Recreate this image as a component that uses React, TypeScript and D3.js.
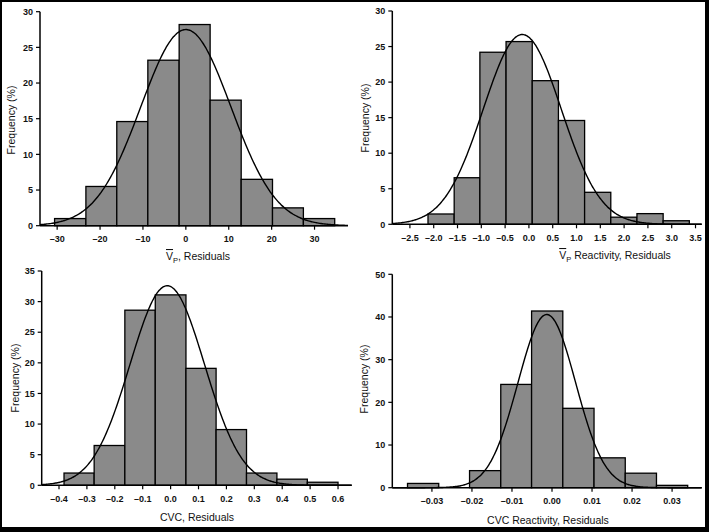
import React from "react";
import * as d3 from "d3";

// ---------- DATA ----------
// Panel 1: V̄P residuals
const p1Edges = [-30.6, -23.3, -16.1, -8.86, -1.56, 5.66, 12.9, 20.2, 27.4, 34.7];
const p1Freq = [1.0, 5.5, 14.6, 23.2, 28.2, 17.6, 6.5, 2.5, 1.0];
const p1Fit = [0.0, 10.5, 27.5]; // mean, sd, peak
const p1XTicks = [-30, -20, -10, 0, 10, 20, 30];
const p1XLabels = ["\u201330", "\u201320", "\u201310", "0", "10", "20", "30"];
const p1YTicks = [0, 5, 10, 15, 20, 25, 30];

// Panel 2: V̄P reactivity residuals
const p2Edges = [-2.12, -1.57, -1.03, -0.48, 0.07, 0.62, 1.17, 1.72, 2.27, 2.82, 3.37];
const p2Freq = [1.45, 6.55, 24.2, 25.7, 20.2, 14.6, 4.5, 1.0, 1.5, 0.5];
const p2Fit = [-0.14, 0.82, 26.7];
const p2XTicks = [-2.5, -2.0, -1.5, -1.0, -0.5, 0.0, 0.5, 1.0, 1.5, 2.0, 2.5, 3.0, 3.5];
const p2XLabels = ["\u20132.5", "\u20132.0", "\u20131.5", "\u20131.0", "\u20130.5", "0.0", "0.5", "1.0", "1.5", "2.0", "2.5", "3.0", "3.5"];
const p2YTicks = [0, 5, 10, 15, 20, 25, 30];

// Panel 3: CVC residuals
const p3Edges = [-0.382, -0.274, -0.164, -0.055, 0.055, 0.163, 0.272, 0.381, 0.49, 0.6];
const p3Freq = [2.0, 6.5, 28.6, 31.1, 19.1, 9.1, 2.0, 1.0, 0.5];
const p3Fit = [-0.012, 0.1334, 32.6];
const p3XTicks = [-0.4, -0.3, -0.2, -0.1, 0.0, 0.1, 0.2, 0.3, 0.4, 0.5, 0.6];
const p3XLabels = ["\u20130.4", "\u20130.3", "\u20130.2", "\u20130.1", "0.0", "0.1", "0.2", "0.3", "0.4", "0.5", "0.6"];
const p3YTicks = [0, 5, 10, 15, 20, 25, 30, 35];

// Panel 4: CVC reactivity residuals
const p4Edges = [-0.0361, -0.0283, -0.0206, -0.0128, -0.0051, 0.0027, 0.0105, 0.0183, 0.0261, 0.0339];
const p4Freq = [1.0, 0, 4.0, 24.2, 41.4, 18.6, 7.0, 3.4, 0.55];
const p4Fit = [-0.0013, 0.0072, 40.6];
const p4XTicks = [-0.03, -0.02, -0.01, 0.0, 0.01, 0.02, 0.03];
const p4XLabels = ["\u20130.03", "\u20130.02", "\u20130.01", "0.00", "0.01", "0.02", "0.03"];
const p4YTicks = [0, 10, 20, 30, 40, 50];

// ---------- LAYOUT ----------
const FONT = "'Liberation Sans', Arial, Helvetica, sans-serif";
const BAR_FILL = "#8a8a8a";

type PanelCfg = {
  edges: number[];
  freq: number[];
  fit: number[];
  xTicks: number[];
  xLabels: string[];
  yTicks: number[];
  xDomain: [number, number];
  yDomain: [number, number];
  xRange: [number, number];
  yRange: [number, number];
  title: React.ReactNode;
  titleX: number;
  titleY: number;
  yTitleX: number;
  yTitleY: number;
};

const VP = (
  <tspan>
    <tspan style={{ textDecoration: "overline" }}>V</tspan>
    <tspan fontSize={7.5} dy={3}>P</tspan>
  </tspan>
);

const panels: PanelCfg[] = [
  {
    edges: p1Edges, freq: p1Freq, fit: p1Fit, xTicks: p1XTicks, xLabels: p1XLabels, yTicks: p1YTicks,
    xDomain: [-34, 37.8], yDomain: [0, 30], xRange: [40, 348], yRange: [225.7, 11.7],
    title: (<>{VP}<tspan dy={-3}>, Residuals</tspan></>),
    titleX: 198, titleY: 260, yTitleX: 15, yTitleY: 120,
  },
  {
    edges: p2Edges, freq: p2Freq, fit: p2Fit, xTicks: p2XTicks, xLabels: p2XLabels, yTicks: p2YTicks,
    xDomain: [-2.87, 3.63], yDomain: [0, 30], xRange: [392.3, 701.7], yRange: [224.3, 11],
    title: (<>{VP}<tspan dy={-3}> Reactivity, Residuals</tspan></>),
    titleX: 615, titleY: 259, yTitleX: 369, yTitleY: 118,
  },
  {
    edges: p3Edges, freq: p3Freq, fit: p3Fit, xTicks: p3XTicks, xLabels: p3XLabels, yTicks: p3YTicks,
    xDomain: [-0.462, 0.649], yDomain: [0, 35], xRange: [41.7, 351.7], yRange: [485.3, 271],
    title: "CVC, Residuals",
    titleX: 197, titleY: 521, yTitleX: 19, yTitleY: 378,
  },
  {
    edges: p4Edges, freq: p4Freq, fit: p4Fit, xTicks: p4XTicks, xLabels: p4XLabels, yTicks: p4YTicks,
    xDomain: [-0.0399, 0.0374], yDomain: [0, 50], xRange: [392.3, 701.7], yRange: [487.7, 274.3],
    title: "CVC Reactivity, Residuals",
    titleX: 548, titleY: 524, yTitleX: 368, yTitleY: 379,
  },
];

function Panel({ cfg }: { cfg: PanelCfg }) {
  const x = d3.scaleLinear().domain(cfg.xDomain).range(cfg.xRange);
  const y = d3.scaleLinear().domain(cfg.yDomain).range(cfg.yRange);
  const [mean, sd, peak] = cfg.fit;
  const samples = d3.range(0, 241).map((i) => cfg.xDomain[0] + ((cfg.xDomain[1] - cfg.xDomain[0]) * i) / 240);
  const line = d3
    .line<number>()
    .x((v) => x(v))
    .y((v) => y(peak * Math.exp(-0.5 * ((v - mean) / sd) ** 2)))
    .curve(d3.curveBasis);
  const y0 = y(0);
  const [xl, xr] = x.range();
  return (
    <g>
      {cfg.freq.map((f, i) =>
        f > 0 ? (
          <rect
            key={i}
            x={x(cfg.edges[i])}
            y={y(f)}
            width={x(cfg.edges[i + 1]) - x(cfg.edges[i])}
            height={y0 - y(f)}
            fill={BAR_FILL}
            stroke="#000"
            strokeWidth={1.3}
          />
        ) : null
      )}
      <path d={line(samples) || ""} fill="none" stroke="#000" strokeWidth={1.4} />
      {/* x axis */}
      <line x1={xl} x2={xr} y1={y0} y2={y0} stroke="#000" strokeWidth={1.5} />
      {cfg.xTicks.map((t, i) => (
        <g key={i}>
          <line x1={x(t)} x2={x(t)} y1={y0} y2={y0 + 4} stroke="#000" strokeWidth={1.2} />
          <text x={x(t)} y={y0 + 16.5} textAnchor="middle" fontSize={9} fontWeight="bold" fontFamily={FONT} fill="#111">
            {cfg.xLabels[i]}
          </text>
        </g>
      ))}
      {/* y axis */}
      <line x1={xl} x2={xl} y1={y0} y2={y(cfg.yDomain[1])} stroke="#000" strokeWidth={1.5} />
      {cfg.yTicks.map((t, i) => (
        <g key={i}>
          <line x1={xl - 4} x2={xl} y1={y(t)} y2={y(t)} stroke="#000" strokeWidth={1.2} />
          <text x={xl - 7} y={y(t) + 3.2} textAnchor="end" fontSize={9} fontWeight="bold" fontFamily={FONT} fill="#111">
            {t}
          </text>
        </g>
      ))}
      <text x={cfg.titleX} y={cfg.titleY} textAnchor="middle" fontSize={10.5} fontFamily={FONT} fill="#111">
        {cfg.title}
      </text>
      <text
        transform={`translate(${cfg.yTitleX},${cfg.yTitleY}) rotate(-90)`}
        textAnchor="middle"
        fontSize={10.5}
        fontFamily={FONT}
        fill="#111"
      >
        Frequency (%)
      </text>
    </g>
  );
}

export default function App() {
  return (
    <svg
      width={709}
      height={532}
      style={{ position: "absolute", left: 0, top: 0, display: "block" }}
    >
      <rect x={0} y={0} width={709} height={532} fill="#000" />
      <rect x={2} y={2} width={703} height={525} fill="#fff" />
      {panels.map((p, i) => (
        <Panel key={i} cfg={p} />
      ))}
    </svg>
  );
}
